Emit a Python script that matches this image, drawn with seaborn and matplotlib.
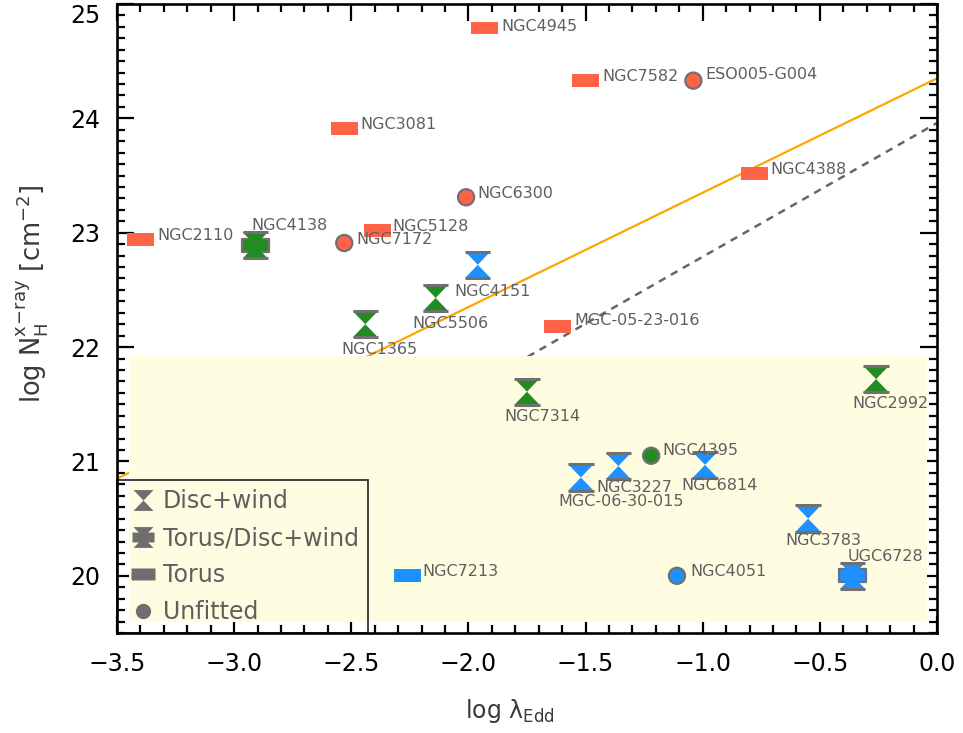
import numpy as np
import pandas as pd
import matplotlib
matplotlib.use("Agg")
import matplotlib.pyplot as plt
import seaborn as sns
from matplotlib.path import Path
from matplotlib.patches import Rectangle
from matplotlib.lines import Line2D
from matplotlib.legend_handler import HandlerTuple

# ---------------- data ----------------
names = ["NGC4945", "NGC7582", "NGC3081", "NGC4388", "NGC2110", "NGC5128",
         "MGC-05-23-016", "NGC7213",
         "ESO005-G004", "NGC6300", "NGC7172", "NGC4395", "NGC4051",
         "NGC4151", "NGC5506", "NGC1365", "NGC7314", "NGC2992", "NGC3227",
         "MGC-06-30-015", "NGC6814", "NGC3783",
         "NGC4138", "UGC6728"]
log_edd = [-1.93, -1.50, -2.53, -0.78, -3.40, -2.39,
           -1.62, -2.26,
           -1.04, -2.01, -2.53, -1.22, -1.11,
           -1.96, -2.14, -2.44, -1.75, -0.26, -1.36,
           -1.52, -0.99, -0.55,
           -2.91, -0.36]
log_nh = [24.79, 24.33, 23.91, 23.52, 22.94, 23.02,
          22.18, 20.00,
          24.33, 23.31, 22.91, 21.05, 20.00,
          22.72, 22.43, 22.20, 21.61, 21.72, 20.96,
          20.86, 20.97, 20.50,
          22.89, 20.00]
model = ["Torus"] * 8 + ["Unfitted"] * 5 + ["Disc+wind"] * 9 + ["Torus/Disc+wind"] * 2
group = ["red", "red", "red", "red", "red", "red", "red", "blue",
         "red", "red", "red", "green", "blue",
         "blue", "green", "green", "green", "green", "blue",
         "blue", "blue", "blue",
         "green", "blue"]

# relation lines (slope, intercept, x range)
orange_line = dict(slope=1.0, intercept=24.35, x0=-3.5, x1=0.0)
dashed_line = dict(slope=1.17, intercept=23.96, x0=-1.9, x1=0.0)

legend_labels = ["Disc+wind", "Torus/Disc+wind", "Torus", "Unfitted"]

# label offsets (pixels: dx to text left edge, dy to text centre, y downwards)
label_offsets = {
    "NGC4945": (17, -2), "NGC7582": (17, -4), "ESO005-G004": (12, -6),
    "NGC3081": (16, -4), "NGC4388": (16, -4), "NGC6300": (11, -4),
    "NGC2110": (17, -4), "NGC4138": (-4, -20), "NGC5128": (15, -4),
    "NGC7172": (12, -4), "NGC4151": (-23, 27), "NGC5506": (-23, 26),
    "NGC1365": (-24, 25), "MGC-05-23-016": (17, -6), "NGC7314": (-23, 25),
    "NGC2992": (-24, 24), "NGC4395": (11, -5), "NGC3227": (-22, 21),
    "MGC-06-30-015": (-23, 24), "NGC6814": (-24, 21), "NGC3783": (-23, 22),
    "UGC6728": (-5, -19), "NGC7213": (15, -4), "NGC4051": (13, -4),
}

df = pd.DataFrame(dict(name=names, x=log_edd, y=log_nh, model=model, group=group))

# ---------------- style ----------------
sns.set_theme(style="ticks")
plt.rcParams["font.family"] = ["DejaVu Sans"]
plt.rcParams["mathtext.default"] = "regular"

palette = {"red": "#FF6347", "green": "#228B22", "blue": "#1E90FF"}
edge_gray = "#707070"
text_gray = "#5f5f5f"

hour_path = Path([(-0.96, 1), (0.96, 1), (0, 0), (0.96, -1), (-0.96, -1), (0, 0), (-0.96, 1)],
                 [Path.MOVETO, Path.LINETO, Path.LINETO, Path.LINETO, Path.LINETO, Path.LINETO, Path.CLOSEPOLY])
bars_path = Path([(-0.96, 1), (0.96, 1), (-0.96, -1), (0.96, -1)],
                 [Path.MOVETO, Path.LINETO, Path.MOVETO, Path.LINETO])
rect_path = Path([(-1, -0.48), (1, -0.48), (1, 0.48), (-1, 0.48), (-1, -0.48)],
                 [Path.MOVETO, Path.LINETO, Path.LINETO, Path.LINETO, Path.CLOSEPOLY])

fig = plt.figure(figsize=(9.63, 7.33), dpi=100)
ax = fig.add_axes([117 / 963, 1 - 633 / 733, 820 / 963, 629 / 733])

# lines (below the shaded region)
for ln, kw in [(orange_line, dict(color="orange", lw=1.6, ls="-")),
               (dashed_line, dict(color="#666666", lw=1.8, ls=(0, (3, 2.5))))]:
    xs = np.array([ln["x0"], ln["x1"]])
    sns.lineplot(x=xs, y=ln["slope"] * xs + ln["intercept"], ax=ax, zorder=1, **kw)

ax.add_patch(Rectangle((-3.45, 19.6), 3.407, 2.32, facecolor="#FFFDE1", edgecolor="none", zorder=2))

def scat(sub, marker, s, ec="none", lw=0, fill=True, z=3):
    if fill:
        sns.scatterplot(data=sub, x="x", y="y", hue="group", palette=palette, marker=marker,
                        s=s, edgecolor=ec, linewidth=lw, legend=False, ax=ax, zorder=z)
    else:
        ax.scatter(sub["x"], sub["y"], marker=marker, s=s, facecolors="none",
                   edgecolors=ec, linewidths=lw, zorder=z)

sub = df[df.model == "Torus"]
scat(sub, rect_path, 378)
sub = df[df.model == "Unfitted"]
scat(sub, "o", 135, ec=edge_gray, lw=1.6)
sub = df[df.model == "Disc+wind"]
scat(sub, hour_path, 360)
scat(sub, bars_path, 360, ec=edge_gray, lw=2.2, fill=False, z=4)
sub = df[df.model == "Torus/Disc+wind"]
scat(sub, rect_path, 378, ec=edge_gray, lw=1.6)
scat(sub, hour_path, 360, z=4)
scat(sub, bars_path, 360, ec=edge_gray, lw=2.2, fill=False, z=5)

for n, xv, yv in zip(names, log_edd, log_nh):
    dx, dy = label_offsets[n]
    ax.annotate(n, (xv, yv), xytext=(dx * 0.72, -dy * 0.72), textcoords="offset points",
                ha="left", va="center", fontsize=11.5, color=text_gray, zorder=6)

# legend
g = "#6e6e6e"
h1 = Line2D([], [], ls="none", marker=hour_path, ms=15, mfc=g, mec="none")
h2a = Line2D([], [], ls="none", marker=rect_path, ms=16, mfc=g, mec="none")
h2b = Line2D([], [], ls="none", marker=hour_path, ms=15, mfc=g, mec="none")
h3 = Line2D([], [], ls="none", marker=rect_path, ms=17, mfc=g, mec="none")
h4 = Line2D([], [], ls="none", marker="o", ms=11, mfc=g, mec="none")
leg = ax.legend([h1, (h2a, h2b), h3, h4], legend_labels,
                handler_map={tuple: HandlerTuple(ndivide=1, pad=0)},
                loc="lower left", bbox_to_anchor=(0, 0), borderaxespad=0,
                frameon=True, fancybox=False, edgecolor="black", facecolor="none",
                fontsize=17, labelcolor=text_gray, handlelength=1.45, handletextpad=0.12,
                labelspacing=0.55, borderpad=0.38)
leg.get_frame().set_linewidth(1.3)
leg.set_zorder(7)

ax.set_xlim(-3.5, 0.0)
ax.set_ylim(19.5, 25.0)
ax.set_xticks(np.arange(-3.5, 0.01, 0.5))
ax.set_xticklabels([f"{v:.1f}".replace("-", "\u2212") for v in np.arange(-3.5, 0.01, 0.5)])
ax.set_yticks([20, 21, 22, 23, 24, 25])
ax.xaxis.set_minor_locator(matplotlib.ticker.MultipleLocator(0.1))
ax.yaxis.set_minor_locator(matplotlib.ticker.MultipleLocator(0.1))
ax.tick_params(which="both", direction="in", top=True, right=True, width=1.6, colors="black",
               labelsize=17)
ax.tick_params(axis="x", pad=14)
ax.tick_params(axis="y", pad=12)
ax.tick_params(which="major", length=12)
ax.tick_params(which="minor", length=6)
for sp in ax.spines.values():
    sp.set_linewidth(1.9)
    sp.set_color("black")
ax.set_facecolor("white")
fig.canvas.draw()
ax.get_yticklabels()[-1].set_va("top")

ax.set_xlabel(r"log $\lambda_{Edd}$", fontsize=17, color="#3a3a3a")
ax.set_ylabel(r"log N$_{H}^{x\!-\!ray}$ [cm$^{-2}$]", fontsize=18.5, color="#3a3a3a")
ax.xaxis.set_label_coords(0.479, -0.1025)
ax.yaxis.set_label_coords(-0.082, 0.54)

fig.savefig("out.png", dpi=100)
